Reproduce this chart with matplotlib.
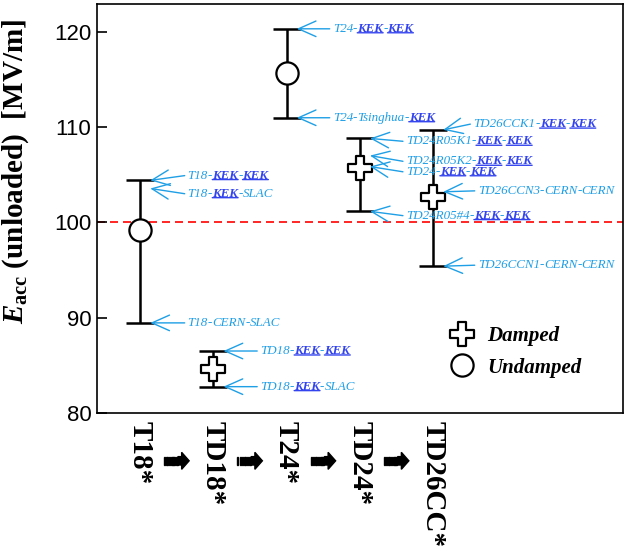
"""
Unloaded accelerating gradient reached by the X-band test structures,
T18 -> TD18 -> T24 -> TD24 -> TD26CC, with the individual test results
marked on each error bar.
"""

import numpy as np
import matplotlib
matplotlib.use('Agg')
import matplotlib.pyplot as plt
from matplotlib.path import Path
from matplotlib.lines import Line2D
from matplotlib.patches import Polygon, Rectangle
import matplotlib.transforms as mtransforms

# --- data ---
structures = ["T18*", "TD18*", "T24*", "TD24*", "TD26CC*"]
damped = [False, True, False, True, True]
e_mean = [99.2, 84.6, 115.7, 105.7, 102.7]
e_low = [89.45, 82.76, 110.97, 101.15, 95.4]
e_high = [104.4, 86.5, 120.3, 108.8, 109.7]

# individual results: structure index, label, value at arrow tip, text level
test_idx = [0, 0, 0, 1, 1, 2, 2, 3, 3, 3, 3, 4, 4, 4]
test_labels = [
    "T18-KEK-KEK", "T18-KEK-SLAC", "T18-CERN-SLAC",
    "TD18-KEK-KEK", "TD18-KEK-SLAC",
    "T24-KEK-KEK", "T24-Tsinghua-KEK",
    "TD24R05K1-KEK-KEK", "TD24R05K2-KEK-KEK", "TD24-KEK-KEK", "TD24R05#4-KEK-KEK",
    "TD26CCK1-KEK-KEK", "TD26CCN3-CERN-CERN", "TD26CCN1-CERN-CERN",
]
test_tip = [104.4, 103.55, 89.45, 86.5, 82.76, 120.3, 110.97,
            108.8, 107.0, 105.85, 101.15, 109.7, 103.2, 95.4]
test_text = [104.9, 103.0, 89.45, 86.5, 82.76, 120.3, 110.97,
             108.5, 106.4, 105.3, 100.7, 110.3, 103.3, 95.5]

target = 100.0

LIGHT = "#1e9fe6"
KEK_BLUE = "#3344ee"
SERIF = "Liberation Serif"

# Greek-cross outline marker for damped structures
a = 0.38
cross = Path([(-a, 1), (a, 1), (a, a), (1, a), (1, -a), (a, -a), (a, -1),
              (-a, -1), (-a, -a), (-1, -a), (-1, a), (-a, a), (-a, 1)],
             closed=True)

plt.rcParams['mathtext.fontset'] = 'custom'
plt.rcParams['mathtext.rm'] = 'Liberation Serif:bold'
plt.rcParams['mathtext.it'] = 'Liberation Serif:bold:italic'
plt.rcParams['mathtext.bf'] = 'Liberation Serif:bold'

fig = plt.figure(figsize=(6.28, 5.51), dpi=100)
ax = fig.add_axes([0.1545, 0.2505, 0.8375, 0.7422])

x = np.arange(1, len(structures) + 1)

ax.axhline(target, color="red", ls=(0, (4.8, 3)), lw=1.2, zorder=1)

for xi, m, lo, hi, dmp in zip(x, e_mean, e_low, e_high, damped):
    ax.errorbar([xi], [m], yerr=[[m - lo], [hi - m]], fmt='none',
                ecolor='black', elinewidth=1.8, capsize=10, capthick=1.8,
                zorder=2)
    ax.plot([xi], [m], ls='none', marker=cross if dmp else 'o',
            ms=17 if dmp else 16, mfc='white', mec='black', mew=1.6,
            zorder=3)

# --- annotations with arrows ---
TIP_OFF = 0.14
TEXT_OFF = [0.65, 0.65, 0.65, 0.64, 0.64, 0.63, 0.63,
            0.63, 0.63, 0.63, 0.63, 0.55, 0.61, 0.61]


def rich_label(xd, yd, label):
    parts = label.split("-")
    prev = None
    for k, p in enumerate(parts):
        pieces = [(p, p == "KEK")]
        if k < len(parts) - 1:
            pieces.append(("-", False))
        for txt, bold in pieces:
            kw = dict(fontfamily=SERIF, fontstyle='italic', fontsize=9.4,
                      color=KEK_BLUE if bold else LIGHT,
                      fontweight='bold' if bold else 'normal',
                      annotation_clip=False)
            if prev is None:
                t = ax.annotate(txt, xy=(xd, yd), xycoords='data',
                                ha='left', va='center', **kw)
            else:
                t = ax.annotate(txt, xy=(1, 0), xycoords=prev,
                                ha='left', va='bottom', **kw)
            if bold:
                ax.annotate("", xy=(1, 0.17), xycoords=t,
                            xytext=(0, 0.17), textcoords=t,
                            arrowprops=dict(arrowstyle='-', lw=1.0,
                                            color=KEK_BLUE,
                                            shrinkA=0, shrinkB=0))
            prev = t


for i, lab, tip, ty, off in zip(test_idx, test_labels, test_tip, test_text,
                                TEXT_OFF):
    xc = x[i]
    ax.annotate("", xy=(xc + TIP_OFF, tip), xytext=(xc + off - 0.04, ty),
                arrowprops=dict(arrowstyle='->,head_length=0.9,head_width=0.4',
                                color=LIGHT, lw=1.0, shrinkA=0, shrinkB=0,
                                mutation_scale=14))
    rich_label(xc + off, ty, lab)

# --- axes styling ---
ax.set_xlim(0.413, 7.594)
ax.set_ylim(80, 122.9)
ax.set_yticks([80, 90, 100, 110, 120])
ax.tick_params(axis='y', direction='in', length=7, width=1.2,
               labelsize=16, pad=4)
for lbl in ax.get_yticklabels():
    lbl.set_fontfamily("Liberation Sans")
for s in ax.spines.values():
    s.set_linewidth(1.2)

ax.set_xticks(x)
ax.set_xticklabels(structures, rotation=-90, fontfamily=SERIF,
                   fontweight='bold', fontsize=21, va='top', ha='center')
ax.tick_params(axis='x', length=0, pad=6)

# striped arrows between the structure names
base = mtransforms.blended_transform_factory(ax.transData, ax.transAxes)
for xm in x[:-1] + 0.5:
    tr = fig.dpi_scale_trans + mtransforms.ScaledTranslation(xm, -0.117, base)
    for j, w in enumerate([0.01, 0.012, 0.014, 0.016, 0.018, 0.02]):
        x0 = -0.125 + j * 0.023
        fig.patches.append(Rectangle((x0, -0.042), w, 0.084, transform=tr,
                                     color='black'))
    head = [(0.013, -0.042), (0.05, -0.042), (0.05, -0.085), (0.125, 0.0),
            (0.05, 0.085), (0.05, 0.042), (0.013, 0.042)]
    fig.patches.append(Polygon(head, closed=True, transform=tr,
                               color='black'))

ax.set_ylabel(r"$E_{\rm acc}$ (unloaded)  [MV/m]", fontfamily=SERIF,
              fontweight='bold', fontsize=21)
ax.yaxis.set_label_coords(-0.125, 0.59)

handles = [
    Line2D([], [], ls='none', marker=cross, ms=17, mfc='white', mec='black',
           mew=1.6),
    Line2D([], [], ls='none', marker='o', ms=16, mfc='white', mec='black',
           mew=1.6),
]
ax.legend(handles, ["Damped", "Undamped"], loc='upper left',
          bbox_to_anchor=(0.635, 0.258), frameon=False, handlelength=1.2,
          handletextpad=0.6, labelspacing=0.55,
          prop=dict(family=SERIF, weight='bold', style='italic', size=15))

fig.savefig("out.png", dpi=100)
